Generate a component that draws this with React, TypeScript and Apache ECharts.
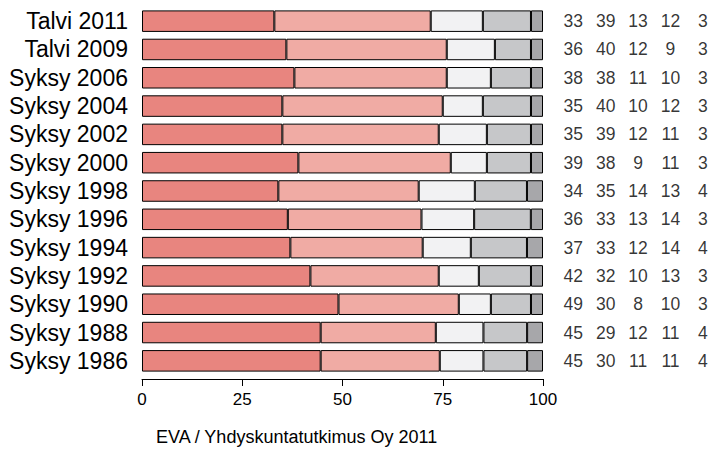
import React, { useEffect, useRef } from "react";
import * as echarts from "echarts";

const categories = [
  "Talvi 2011", "Talvi 2009", "Syksy 2006", "Syksy 2004", "Syksy 2002", "Syksy 2000",
  "Syksy 1998", "Syksy 1996", "Syksy 1994", "Syksy 1992", "Syksy 1990", "Syksy 1988", "Syksy 1986",
];
const s1 = [33, 36, 38, 35, 35, 39, 34, 36, 37, 42, 49, 45, 45];
const s2 = [39, 40, 38, 40, 39, 38, 35, 33, 33, 32, 30, 29, 30];
const s3 = [13, 12, 11, 10, 12, 9, 14, 13, 12, 10, 8, 12, 11];
const s4 = [12, 9, 10, 12, 11, 11, 13, 14, 14, 13, 10, 11, 11];
const s5 = [3, 3, 3, 3, 3, 3, 4, 3, 4, 3, 3, 4, 4];
const xTicks = [0, 25, 50, 75, 100];
const footer = "EVA / Yhdyskuntatutkimus Oy 2011";

const colors = ["#E8857F", "#F0ABA4", "#F2F2F3", "#C6C7C9", "#A7A7AA"];
const FONT = "Liberation Sans, Arial, sans-serif";

export default function App() {
  const ref = useRef<HTMLDivElement>(null);
  useEffect(() => {
    if (!ref.current) return;
    const chart = echarts.init(ref.current, undefined, { renderer: "svg" });
    const all = [s1, s2, s3, s4, s5];
    const sums = categories.map((_, i) => all.reduce((a, s) => a + s[i], 0));
    const barSeries = all.map((s, k) => ({
      type: "bar",
      stack: "total",
      xAxisIndex: 0,
      yAxisIndex: 0,
      barCategoryGap: "24%",
      data: s.map((v, i) => (v / sums[i]) * 100),
      itemStyle: { color: colors[k], borderColor: "#000", borderWidth: 1 },
      silent: true,
    }));
    const labelData: any[] = [];
    all.forEach((s, k) => s.forEach((v, i) => labelData.push([k, i, v])));
    chart.setOption({
      animation: false,
      textStyle: { fontFamily: FONT },
      title: {
        text: footer,
        left: 156,
        top: 428,
        padding: 0,
        textStyle: { fontSize: 18, fontWeight: "normal", color: "#000", fontFamily: FONT },
      },
      grid: [
        { left: 142, width: 401, top: 7, height: 368 },
        { left: 557, right: 0, top: 7, height: 368 },
      ],
      xAxis: [
        {
          gridIndex: 0,
          type: "value",
          min: 0,
          max: 100,
          interval: 25,
          offset: 4,
          splitLine: { show: false },
          axisLine: { show: true, lineStyle: { color: "#000", width: 1 } },
          axisTick: { show: true, length: 7, lineStyle: { color: "#000" } },
          axisLabel: {
            fontSize: 17,
            color: "#000",
            margin: 12,
            fontFamily: FONT,
            formatter: (v: number) => (xTicks.includes(v) ? String(v) : ""),
          },
        },
        { gridIndex: 1, type: "value", min: -0.5, max: 4.25, show: false },
      ],
      yAxis: [
        {
          gridIndex: 0,
          type: "category",
          data: categories,
          inverse: true,
          axisLine: { show: false },
          axisTick: { show: false },
          axisLabel: { interval: 0, fontSize: 23, color: "#000", margin: 14, fontFamily: FONT },
        },
        { gridIndex: 1, type: "category", data: categories, inverse: true, show: false },
      ],
      series: [
        ...barSeries,
        {
          type: "scatter",
          xAxisIndex: 1,
          yAxisIndex: 1,
          symbolSize: 0,
          silent: true,
          data: labelData,
          label: {
            show: true,
            position: "inside",
            formatter: (p: any) => String(p.value[2]),
            fontSize: 17.5,
            color: "#000",
            fontFamily: FONT,
          },
        },
      ],
    });
    return () => chart.dispose();
  }, []);
  return (
    <div
      ref={ref}
      style={{ position: "absolute", left: 0, top: 0, width: 711, height: 449 }}
    />
  );
}
